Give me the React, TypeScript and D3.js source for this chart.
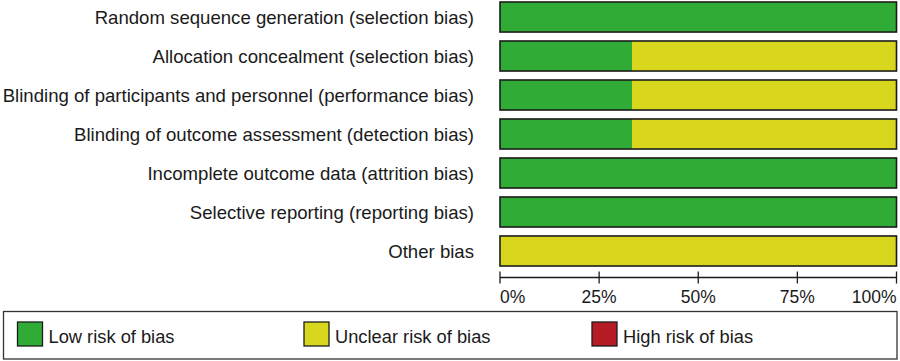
import * as d3 from "d3";
import { useEffect, useRef } from "react";

const domains = [
  "Random sequence generation (selection bias)",
  "Allocation concealment (selection bias)",
  "Blinding of participants and personnel (performance bias)",
  "Blinding of outcome assessment (detection bias)",
  "Incomplete outcome data (attrition bias)",
  "Selective reporting (reporting bias)",
  "Other bias",
];
const lowRisk = [100, 33.3, 33.3, 33.3, 100, 100, 0];
const unclearRisk = [0, 66.7, 66.7, 66.7, 0, 0, 100];
const highRisk = [0, 0, 0, 0, 0, 0, 0];
const ticks = [0, 25, 50, 75, 100];
const legendNames = ["Low risk of bias", "Unclear risk of bias", "High risk of bias"];
const colors = ["#30ab35", "#d8d61d", "#b51c25"];

const W = 900;
const H = 361;
const FONT = "Arial, 'Liberation Sans', sans-serif";

const drawChart = (svgEl: SVGSVGElement) => {
  const svg = d3.select(svgEl);
  svg.selectAll("*").remove();

  const x = d3.scaleLinear().domain([0, 100]).range([500, 896.5]);
  const y = d3
    .scaleBand()
    .domain(domains)
    .range([2, 266])
    .paddingInner(0.23)
    .paddingOuter(0);

  const series = [lowRisk, unclearRisk, highRisk];

  const rows = svg
    .selectAll("g.row")
    .data(domains)
    .enter()
    .append("g")
    .attr("class", "row")
    .attr("transform", d => `translate(0, ${y(d)})`);

  rows.each(function (_, i) {
    const g = d3.select(this);
    let start = 0;
    series.forEach((s, k) => {
      const v = s[i];
      if (v > 0) {
        g.append("rect")
          .attr("x", x(start))
          .attr("y", 0)
          .attr("width", x(start + v) - x(start))
          .attr("height", y.bandwidth())
          .attr("fill", colors[k]);
      }
      start += v;
    });
    g.append("rect")
      .attr("x", x(0))
      .attr("y", 0)
      .attr("width", x(100) - x(0))
      .attr("height", y.bandwidth())
      .attr("fill", "none")
      .attr("stroke", "#1c1c1c")
      .attr("stroke-width", 1.6);
  });

  rows
    .append("text")
    .attr("x", 474)
    .attr("y", y.bandwidth() / 2)
    .attr("dy", "0.36em")
    .attr("text-anchor", "end")
    .style("font-family", FONT)
    .style("font-size", "18.6px")
    .attr("fill", "#1a1a1a")
    .text(d => d);

  // axis
  const axisY = 277.5;
  const axis = svg.append("g");
  axis
    .append("line")
    .attr("x1", x(0))
    .attr("x2", x(100))
    .attr("y1", axisY)
    .attr("y2", axisY)
    .attr("stroke", "#1c1c1c")
    .attr("stroke-width", 1.3);
  axis
    .selectAll("line.tick")
    .data(ticks)
    .enter()
    .append("line")
    .attr("class", "tick")
    .attr("x1", d => x(d))
    .attr("x2", d => x(d))
    .attr("y1", axisY - 6)
    .attr("y2", axisY + 6)
    .attr("stroke", "#1c1c1c")
    .attr("stroke-width", 1.3);
  axis
    .selectAll("text")
    .data(ticks)
    .enter()
    .append("text")
    .attr("x", d => x(d))
    .attr("y", 303)
    .attr("text-anchor", (d, i) => (i === 0 ? "start" : i === ticks.length - 1 ? "end" : "middle"))
    .style("font-family", FONT)
    .style("font-size", "17.5px")
    .attr("fill", "#1a1a1a")
    .text(d => `${d}%`);

  // legend
  const legend = svg.append("g");
  legend
    .append("rect")
    .attr("x", 3.5)
    .attr("y", 311.5)
    .attr("width", 893.5)
    .attr("height", 47.5)
    .attr("fill", "white")
    .attr("stroke", "#333")
    .attr("stroke-width", 1.3);
  const legendX = [17.5, 304, 592];
  const items = legend
    .selectAll("g.item")
    .data(legendNames)
    .enter()
    .append("g")
    .attr("class", "item")
    .attr("transform", (_, i) => `translate(${legendX[i]}, 322)`);
  items
    .append("rect")
    .attr("width", 25)
    .attr("height", 24)
    .attr("fill", (_, i) => colors[i])
    .attr("stroke", "#1c1c1c")
    .attr("stroke-width", 1.3);
  items
    .append("text")
    .attr("x", 31)
    .attr("y", 20.5)
    .style("font-family", FONT)
    .style("font-size", "18.3px")
    .attr("fill", "#1a1a1a")
    .text(d => d);
};

export default function App() {
  const ref = useRef<SVGSVGElement>(null);
  useEffect(() => {
    if (ref.current) drawChart(ref.current);
  }, []);
  return (
    <svg
      ref={ref}
      width={W}
      height={H}
      style={{ position: "absolute", left: 0, top: 0, background: "white" }}
    />
  );
}
